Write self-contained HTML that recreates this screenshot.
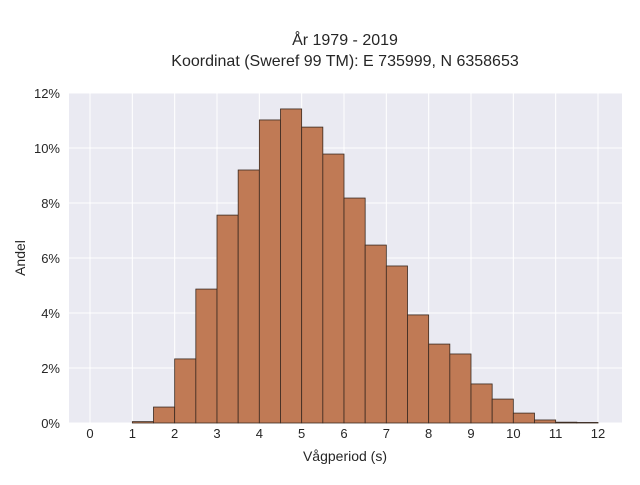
<!DOCTYPE html>
<html><head><meta charset="utf-8"><style>
body{margin:0;background:#fff;font-family:"Liberation Sans",sans-serif}
svg text{font-family:"Liberation Sans",sans-serif;fill:#262626}
</style></head><body>
<svg id="c" width="640" height="480" xmlns="http://www.w3.org/2000/svg">
<rect x="69" y="93" width="553" height="330" fill="#eaeaf2"/>
<g id="grid"></g><g id="bars"></g><g id="axes"></g>
<text x="345" y="45" text-anchor="middle" font-size="16">År 1979 - 2019</text>
<text x="345" y="66" text-anchor="middle" font-size="16">Koordinat (Sweref 99 TM): E 735999, N 6358653</text>
<text x="345" y="461" text-anchor="middle" font-size="14">Vågperiod (s)</text>
<text transform="translate(25,258) rotate(-90)" text-anchor="middle" font-size="14">Andel</text>
</svg>
<script>
const binStarts=[1,1.5,2,2.5,3,3.5,4,4.5,5,5.5,6,6.5,7,7.5,8,8.5,9,9.5,10,10.5,11,11.5];
const shares=[0.05,0.58,2.33,4.87,7.56,9.2,11.02,11.42,10.76,9.78,8.18,6.47,5.71,3.93,2.87,2.51,1.42,0.87,0.36,0.11,0.03,0.02];
const binWidth=0.5;
const xTicks=[0,1,2,3,4,5,6,7,8,9,10,11,12];
const yTicks=[0,2,4,6,8,10,12];
const NS="http://www.w3.org/2000/svg";
const X=v=>90+v*(508/12), Y=v=>423-v*27.5;
function mk(t,a,p){const e=document.createElementNS(NS,t);for(const k in a)e.setAttribute(k,a[k]);document.getElementById(p).appendChild(e);return e;}
xTicks.forEach(t=>{
 const l=mk('line',{x1:X(t),x2:X(t),y1:93,y2:423,stroke:'#fff','stroke-width':1},'grid');
 
 
 const tx=mk('text',{x:X(t),y:438,'text-anchor':'middle','font-size':13},'axes');
 tx.textContent=t;
 
 
});
yTicks.forEach(t=>{
 const l=mk('line',{x1:69,x2:622,y1:Y(t),y2:Y(t),stroke:'#fff','stroke-width':1},'grid');
 
 
 const tx=mk('text',{x:60,y:Y(t)+5,'text-anchor':'end','font-size':13},'axes');
 tx.textContent=t+'%';
 
 
});
binStarts.forEach((b,i)=>{
 const r=mk('rect',{x:X(b),y:Y(shares[i]),width:X(b+binWidth)-X(b),height:Y(0)-Y(shares[i]),fill:'#c07a55',stroke:'#3a2a20','stroke-width':0.8},'bars');
 
 
});
</script>
</body></html>
